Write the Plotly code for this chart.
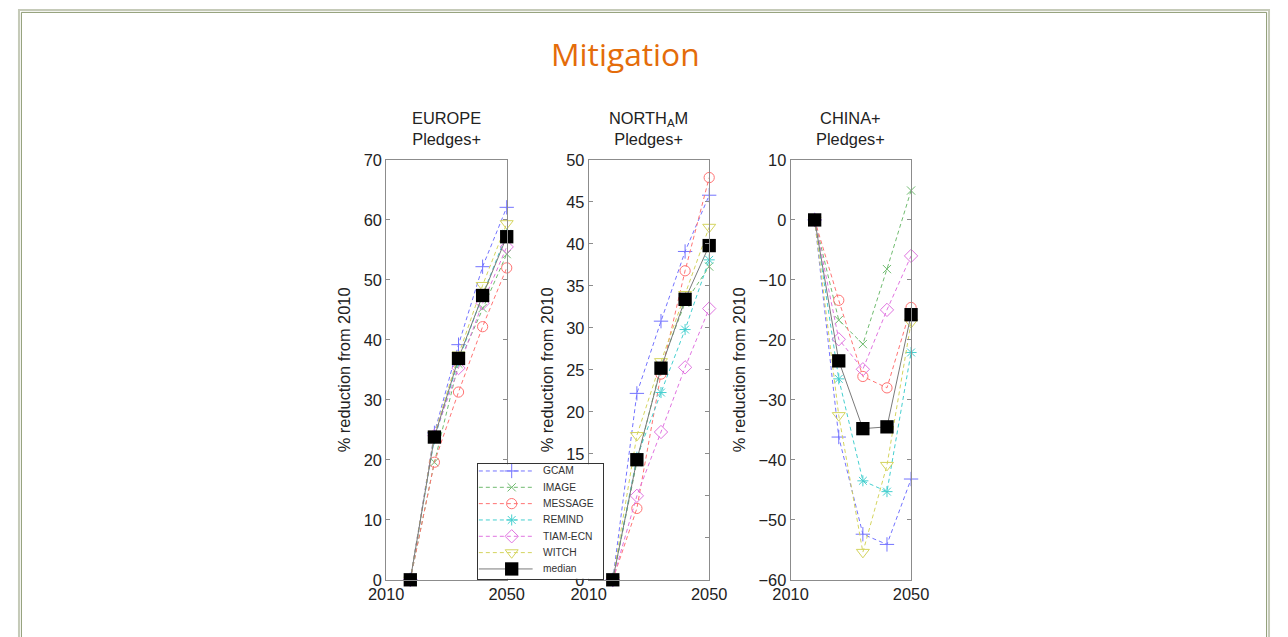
import plotly.graph_objects as go

W, H = 1288, 637

years = [2010, 2020, 2030, 2040, 2050]
models = ["GCAM", "IMAGE", "MESSAGE", "REMIND", "TIAM-ECN", "WITCH"]
model_colors = ["#7373ff", "#70bb70", "#ff7373", "#45cfcf", "#e073e0", "#d4d45e"]
model_symbols = ["cross-thin-open", "x-thin-open", "circle-open", "asterisk-open",
                 "diamond-open", "triangle-down-open"]
model_sizes = [10, 8, 10, 9, 10, 11]

regions = ["EUROPE<br>Pledges+", "NORTH<sub>A</sub>M<br>Pledges+", "CHINA+<br>Pledges+"]

# values per model (order as in `models`), % reduction from 2010
europe_values = [
    [0, 24.5, 39.2, 52.2, 62.1],   # GCAM
    [0, 19.6, 36.0, 45.3, 54.3],   # IMAGE
    [0, 19.6, 31.3, 42.2, 52.0],   # MESSAGE
    [0, 23.5, 36.5, 47.5, 57.7],   # REMIND
    [0, 24.0, 35.3, 46.1, 55.5],   # TIAM-ECN
    [0, 24.2, 37.5, 49.1, 59.4],   # WITCH
]
europe_median = [0, 23.8, 36.9, 47.4, 57.2]

northam_values = [
    [0, 22.2, 30.8, 39.1, 45.8],   # GCAM
    [0, 14.0, 25.5, 33.0, 37.3],   # IMAGE
    [0, 8.5, 24.5, 36.8, 47.9],    # MESSAGE
    [0, 14.6, 22.3, 29.8, 38.1],   # REMIND
    [0, 10.0, 17.6, 25.3, 32.3],   # TIAM-ECN
    [0, 17.2, 26.0, 34.0, 42.0],   # WITCH
]
northam_median = [0, 14.3, 25.2, 33.4, 39.8]

china_values = [
    [0, -36.2, -52.4, -54.1, -43.2],   # GCAM
    [0, -16.7, -20.7, -8.2, 4.9],      # IMAGE
    [0, -13.4, -26.1, -28.0, -14.6],   # MESSAGE
    [0, -26.5, -43.5, -45.3, -22.1],   # REMIND
    [0, -19.9, -24.9, -15.0, -6.0],    # TIAM-ECN
    [0, -32.6, -55.4, -40.9, -17.1],   # WITCH
]
china_median = [0, -23.5, -34.8, -34.5, -15.8]

y_ranges = [[0, 70], [0, 50], [-60, 10]]
y_dticks = [10, 5, 10]
x_range = [2000, 2050]
x_tick_labels = ["2010", "2050"]

all_values = [europe_values, northam_values, china_values]
all_medians = [europe_median, northam_median, china_median]

# ---- geometry: target pixel positions, compensated for the page capture scale ----
S, OX, OY = 0.976, 15.3, 7.7


def px(x):
    return ((x - OX) / S) / W


def py(y):
    return 1 - ((y - OY) / S) / H


def fs(v):
    return v / S


panel_left = [385, 588.3, 791]
panel_width = 121
plot_top, plot_bottom = 159.3, 581

FONT = "Liberation Sans, Arial, Helvetica, sans-serif"
MEDIAN_COLOR = "#7a7a7a"

fig = go.Figure()

for p in range(3):
    xa = "x" if p == 0 else f"x{p+1}"
    ya = "y" if p == 0 else f"y{p+1}"
    for m, name in enumerate(models):
        fig.add_trace(go.Scatter(
            x=years, y=all_values[p][m], name=name, xaxis=xa, yaxis=ya,
            mode="lines+markers", showlegend=False, cliponaxis=False,
            line=dict(color=model_colors[m], width=1, dash="4px,3px"),
            marker=dict(symbol=model_symbols[m], size=fs(model_sizes[m]), color=model_colors[m],
                        line=dict(color=model_colors[m], width=1)),
        ))
    fig.add_trace(go.Scatter(
        x=years, y=all_medians[p], name="median", xaxis=xa, yaxis=ya,
        mode="lines+markers", showlegend=False, cliponaxis=False,
        line=dict(color=MEDIAN_COLOR, width=1),
        marker=dict(symbol="square", size=fs(13), color="black",
                    line=dict(color="black", width=0)),
    ))

# ---- legend box (MATLAB style) drawn in its own small subplot ----
legend_names = models + ["median"]
legend_colors = model_colors + [MEDIAN_COLOR]
legend_symbols = model_symbols + ["square"]
legend_sizes = model_sizes + [13]
legend_box = dict(left=477, right=603, top=465, bottom=580)   # pixels
row_step = 16.4           # pixels between rows
first_row = 6.7           # pixels from box top to first row
sample_span = [1, 55]     # sample line, pixels from box left
sample_marker = 34        # marker, pixels from box left
text_start = 63           # text, pixels from box left

box_h = legend_box["bottom"] - legend_box["top"]
box_w = legend_box["right"] - legend_box["left"]
for i, name in enumerate(legend_names):
    is_median = name == "median"
    fig.add_trace(go.Scatter(
        x=sample_span, y=[i, i], xaxis="x4", yaxis="y4", mode="lines",
        showlegend=False, hoverinfo="skip",
        line=dict(color=legend_colors[i], width=1, dash="solid" if is_median else "4px,3px"),
    ))
    fig.add_trace(go.Scatter(
        x=[sample_marker], y=[i], xaxis="x4", yaxis="y4", mode="markers",
        showlegend=False, hoverinfo="skip", cliponaxis=False,
        marker=dict(symbol=legend_symbols[i], size=fs(legend_sizes[i]),
                    color="black" if is_median else legend_colors[i],
                    line=dict(color="black" if is_median else legend_colors[i],
                              width=0 if is_median else 1)),
    ))

axis_font = dict(family=FONT, size=fs(16), color="#222")
layout = dict(
    width=W, height=H,
    margin=dict(l=0, r=0, t=0, b=0),
    paper_bgcolor="white", plot_bgcolor="white",
    showlegend=False,
    annotations=[],
    shapes=[],
    xaxis4=dict(domain=[px(legend_box["left"]), px(legend_box["right"])], anchor="y4",
                range=[0, box_w], showgrid=False, zeroline=False, showticklabels=False,
                ticks="", showline=True, mirror=True, linecolor="#333", linewidth=1,
                fixedrange=True),
    yaxis4=dict(domain=[py(legend_box["bottom"]), py(legend_box["top"])], anchor="x4",
                range=[(box_h - first_row) / row_step, -first_row / row_step],
                showgrid=False, zeroline=False, showticklabels=False,
                ticks="", showline=True, mirror=True, linecolor="#333", linewidth=1,
                fixedrange=True),
)

for i, name in enumerate(legend_names):
    layout["annotations"].append(dict(
        text=name, xref="x4", yref="y4", x=text_start, y=i,
        xanchor="left", yanchor="middle", showarrow=False,
        font=dict(family=FONT, size=fs(10), color="#333"),
    ))

for p in range(3):
    xkey = "xaxis" if p == 0 else f"xaxis{p+1}"
    ykey = "yaxis" if p == 0 else f"yaxis{p+1}"
    xanchor = "y" if p == 0 else f"y{p+1}"
    yanchor = "x" if p == 0 else f"x{p+1}"
    layout[xkey] = dict(
        domain=[px(panel_left[p]), px(panel_left[p] + panel_width)], anchor=xanchor,
        range=x_range, tickvals=x_range, ticktext=x_tick_labels,
        showgrid=False, zeroline=False, showline=True, linecolor="#8c8c8c",
        linewidth=1, mirror="ticks", ticks="inside", ticklen=4, tickcolor="#8c8c8c",
        tickfont=axis_font, fixedrange=True,
    )
    layout[ykey] = dict(
        domain=[py(plot_bottom), py(plot_top)], anchor=yanchor,
        range=y_ranges[p], dtick=y_dticks[p], tick0=0,
        showgrid=False, zeroline=False, showline=True, linecolor="#8c8c8c",
        linewidth=1, mirror="ticks", ticks="inside", ticklen=4, tickcolor="#8c8c8c",
        tickfont=axis_font, fixedrange=True,
        title=dict(text="% reduction from 2010",
                   font=dict(family=FONT, size=fs(16), color="#222"),
                   standoff=fs(8)),
    )
    layout["annotations"].append(dict(
        text=regions[p], xref="paper", yref="paper",
        x=px(panel_left[p] + panel_width / 2), y=py(128),
        xanchor="center", yanchor="middle", showarrow=False,
        font=dict(family=FONT, size=fs(16), color="#222"),
    ))

layout["annotations"].append(dict(
    text="Mitigation", xref="paper", yref="paper", x=px(625), y=py(52),
    xanchor="center", yanchor="middle", showarrow=False,
    font=dict(family="Open Sans, sans-serif", size=fs(31), color="#E46C0A"),
))

# slide frame (as close to the page edge as the capture allows)
for off, col, w in [(1, "#c5cab8", 2), (3.5, "#8b9970", 1)]:
    layout["shapes"].append(dict(
        type="path", xref="paper", yref="paper", layer="above",
        path=(f"M {off / W},{-0.05} L {off / W},{1 - off / H} "
              f"L {(W - off) / W},{1 - off / H} L {(W - off) / W},{-0.05}"),
        line=dict(color=col, width=w),
    ))

fig.update_layout(**layout)
fig.write_html(
    "out.html",
    config={"displayModeBar": False},
    post_script="document.body.style.margin='0';document.body.style.overflow='hidden';",
)
